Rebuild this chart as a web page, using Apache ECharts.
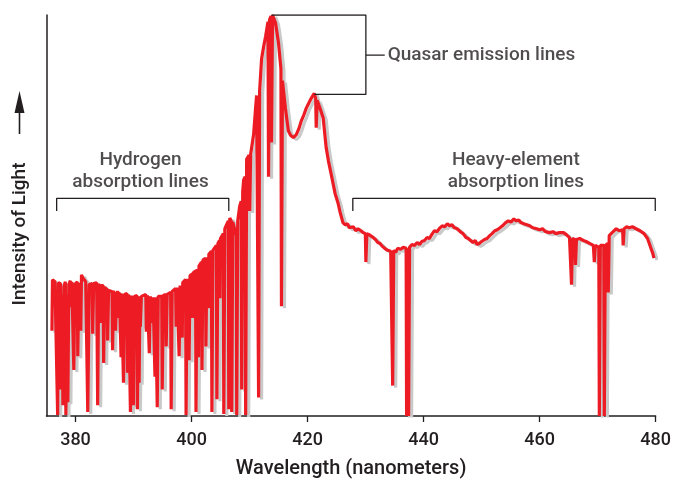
<!DOCTYPE html>
<html>
<head>
<meta charset="utf-8">
<script src="https://cdn.jsdelivr.net/npm/echarts@6/dist/echarts.min.js"></script>
<style>
html,body{margin:0;padding:0;background:#fff;}
#chart{width:674px;height:484px;}
</style>
</head>
<body>
<div id="chart"></div>
<script>
// Wavelength (nm) and relative intensity (arbitrary units)
const wavelength = [
375.94,376.03,376.46,376.80,376.92,377.05,377.40,377.48,377.65,377.83,378.00,378.25,378.34,378.51,378.68,378.85,
379.11,379.20,379.37,379.62,379.71,379.88,380.31,380.39,380.57,380.82,380.91,381.03,381.25,381.76,382.11,382.36,
382.88,382.96,383.13,383.65,383.82,383.99,384.22,384.30,384.38,384.76,384.85,385.02,385.45,385.53,385.70,386.30,386.39,386.56,386.82,
386.90,387.07,387.42,387.50,387.58,387.77,387.85,387.93,388.18,388.27,388.44,388.87,388.96,389.13,389.38,389.47,389.64,389.90,389.98,390.15,390.58,390.67,
390.84,390.96,391.10,391.18,391.35,392.12,392.21,392.38,392.64,392.72,392.89,393.22,393.30,393.38,393.62,393.70,393.78,394.01,394.09,394.26,394.86,394.95,
395.12,395.55,395.63,395.80,396.40,396.49,396.66,397.26,397.35,397.52,397.77,397.86,398.03,398.32,398.40,398.48,398.97,399.06,399.23,
399.49,399.57,399.74,400.12,400.20,400.28,400.68,400.77,400.94,401.12,401.20,401.28,401.71,401.80,401.97,402.40,402.48,402.65,402.82,402.90,402.98,403.42,403.51,403.68,404.28,
404.37,404.54,404.82,404.90,404.98,405.48,405.56,405.74,406.34,406.42,406.59,406.71,406.85,406.93,407.11,407.71,407.79,407.96,408.30,
408.56,408.65,408.82,408.99,409.25,409.33,409.50,409.93,410.02,410.19,410.70,411.04,411.22,411.47,411.56,411.73,
411.90,412.07,412.41,412.76,413.18,413.27,413.44,413.70,413.78,413.96,414.47,414.98,415.41,415.50,415.67,416.18,
416.69,417.10,417.55,418.06,418.50,418.92,419.35,419.78,420.20,420.63,421.15,421.40,421.49,421.66,421.83,422.25,
422.69,423.20,423.60,424.06,424.74,425.26,425.60,426.11,426.50,426.90,427.20,427.48,427.90,428.30,428.70,429.19,
429.60,429.96,430.05,430.22,430.60,430.91,431.30,431.70,432.11,432.50,432.90,433.30,433.80,434.33,434.59,434.67,
434.85,435.20,435.53,436.04,436.50,436.99,437.07,437.24,437.41,437.58,438.00,438.44,438.90,439.30,439.70,440.15,
440.60,441.00,441.40,441.87,442.30,442.70,443.20,443.60,444.09,444.50,444.90,445.30,445.80,446.30,446.80,447.30,
447.70,448.03,448.50,448.90,449.20,449.57,450.00,450.50,450.94,451.40,451.80,452.30,452.70,453.17,453.60,454.10,
454.60,455.10,455.56,456.00,456.40,456.80,457.28,457.80,458.30,458.80,459.50,460.00,460.50,461.00,461.73,462.30,
462.80,463.40,464.13,464.60,465.15,465.41,465.50,465.67,466.09,466.18,466.35,466.90,467.55,468.00,468.60,469.26,
469.43,469.60,469.90,470.20,470.29,470.46,470.80,471.06,471.15,471.32,471.75,471.83,472.00,472.50,473.20,473.70,
474.31,474.40,474.57,475.00,475.43,476.00,476.63,477.30,478.00,478.60,479.19,479.50,479.71
];
const intensity = [
87,139,137,138,1,136,135,27,124,11,132,137,1,124,14,134,
138,111,137,136,47,134,137,61,136,138,87,144,141,137,4,134,
135,84,135,136,11,135,134,95,133,133,54,131,129,77,128,127,67,128,127,
87,126,126,100,126,125,60,125,125,34,124,125,44,124,124,4,123,123,11,122,123,7,
122,34,121,91,122,124,86,123,122,64,122,121,95,121,121,40,121,121,9,122,122,27,
123,124,71,124,126,7,127,130,91,131,132,61,133,135,80,136,139,1,140,
141,57,143,145,100,146,148,4,150,152,60,153,157,47,159,161,71,162,164,110,165,168,4,169,174,
17,176,179,120,181,186,2,191,199,7,202,204,199,4,198,184,1,199,214,
219,27,229,241,244,1,262,266,209,267,287,314,327,329,19,331,
332,364,376,387,402,244,404,408,279,409,401,381,354,112,342,314,
291,286,284,287,293,301,307,314,319,324,329,324,294,322,321,312,
304,274,260,247,227,217,208,197,195,196,192,191,193,189,191,189,
187,186,157,186,185,184,182,180,177,176,173,171,169,168,168,31,
169,167,171,170,172,171,0,171,0,172,175,174,177,175,178,179,
182,181,185,189,188,191,194,193,196,194,195,192,191,188,186,182,
181,179,177,179,175,176,178,180,181,184,186,189,190,192,194,197,
199,198,201,199,200,197,196,195,194,192,191,190,191,188,187,188,
186,187,187,185,182,181,134,181,180,154,180,181,179,178,176,174,
157,174,173,172,0,174,176,174,0,174,176,126,184,187,191,189,
190,174,191,193,192,193,191,189,186,181,171,166,161
];
const xTicks = [380, 400, 420, 440, 460, 480];

// Bracket annotations in data units
const hydrogenBracketX = [376.75, 376.75, 406.42, 406.42];
const hydrogenBracketY = [209, 222, 222, 209];
const heavyBracketX = [427.8, 427.8, 479.93, 479.93];
const heavyBracketY = [209, 222, 222, 209];
const quasarBracketX = [413.78, 430.05, 430.05, 421.15];
const quasarBracketY = [409, 409, 328, 328];
const quasarTickX = [430.05, 433.3];
const quasarTickY = [368, 368];

const annoX = [391.2, 455.9, 433.8];
const annoY = [250, 250, 368];
const annoText = ['Hydrogen\nabsorption lines', 'Heavy-element\nabsorption lines', 'Quasar emission lines'];
const annoAlign = ['center', 'center', 'left'];

const FONT = 'Roboto';
const INK = '#231f20';

function zip(xs, ys) { return xs.map((x, i) => [x, ys[i]]); }

const bracketStyle = { color: INK, width: 1.3 };
function bracket(xs, ys) {
  return { type: 'line', data: zip(xs, ys), showSymbol: false, silent: true,
    lineStyle: bracketStyle, z: 3, animation: false };
}

const chart = echarts.init(document.getElementById('chart'), null, { renderer: 'canvas' });
chart.setOption({
  animation: false,
  backgroundColor: '#fff',
  grid: { left: 46.5, right: 15, top: 15, bottom: 60 },
  xAxis: {
    type: 'value', min: 375, max: 480,
    axisLine: { show: true, onZero: false, lineStyle: { color: INK, width: 1.5 } },
    axisTick: { show: true, customValues: xTicks, length: 6, lineStyle: { color: INK, width: 1.3 } },
    axisLabel: { customValues: xTicks, fontSize: 18, fontWeight: 500, color: INK, fontFamily: FONT, margin: 15 },
    splitLine: { show: false },
    name: 'Wavelength (nanometers)', nameLocation: 'middle', nameGap: 43,
    nameTextStyle: { fontSize: 20, fontWeight: 500, color: INK, fontFamily: FONT }
  },
  yAxis: {
    type: 'value', min: 0, max: 409,
    axisLine: { show: true, onZero: false, lineStyle: { color: INK, width: 1.5 } },
    axisTick: { show: false }, axisLabel: { show: false }, splitLine: { show: false }
  },
  graphic: [
    { type: 'text', x: 20, y: 234, rotation: Math.PI / 2,
      style: { text: 'Intensity of Light', fill: INK, font: '500 19px ' + FONT, textAlign: 'center', textVerticalAlign: 'middle' } },
    { type: 'line', shape: { x1: 19.5, y1: 134, x2: 19.5, y2: 105 }, style: { stroke: INK, lineWidth: 1.6 } },
    { type: 'polygon', shape: { points: [[19.5, 91], [14.5, 113], [24.5, 113]] }, style: { fill: INK } }
  ],
  series: [
    {
      type: 'line', data: zip(wavelength, intensity), showSymbol: false, sampling: null,
      lineStyle: { color: '#ed1c24', width: 3.2, shadowColor: '#c9c9c9', shadowBlur: 0, shadowOffsetX: 3, shadowOffsetY: 2 },
      z: 2, animation: false, silent: true, clip: true
    },
    bracket(hydrogenBracketX, hydrogenBracketY),
    bracket(heavyBracketX, heavyBracketY),
    bracket(quasarBracketX, quasarBracketY),
    bracket(quasarTickX, quasarTickY),
    {
      type: 'scatter', symbolSize: 0, silent: true, z: 4,
      data: annoX.map((x, i) => ({ value: [x, annoY[i]], name: annoText[i],
        label: { align: annoAlign[i], position: annoAlign[i] === 'left' ? 'right' : 'inside', distance: 0 } })),
      label: { show: true, formatter: p => p.name, fontSize: 19, fontWeight: 500, lineHeight: 22, color: INK, fontFamily: FONT }
    }
  ]
});
</script>
</body>
</html>
